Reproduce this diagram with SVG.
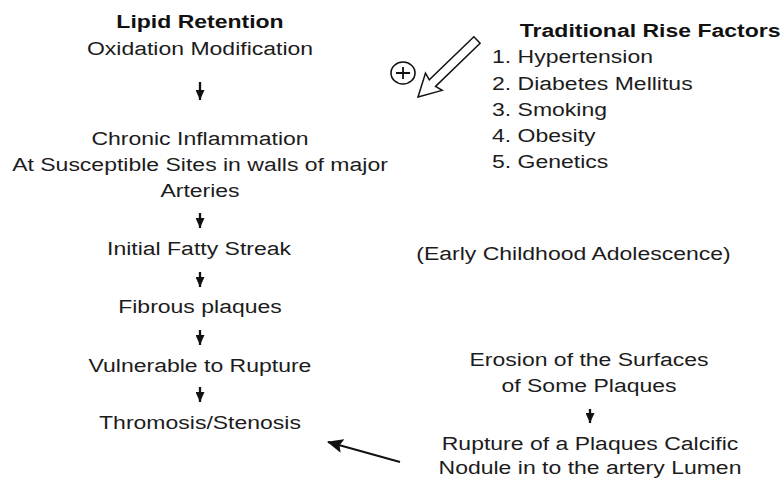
<svg xmlns="http://www.w3.org/2000/svg" width="782" height="481" viewBox="0 0 782 481">
<style>
text{font-family:"Liberation Sans",Arial,sans-serif;font-size:18.6px;fill:#1c1c1c}
.c{text-anchor:middle}
.s{text-anchor:start}
.b{font-weight:bold;fill:#111}
.ln{stroke:#111;stroke-width:2.3;fill:none}
.big{stroke:#111;stroke-width:2;fill:none}
.hollow{fill:#fff;stroke:#111;stroke-width:1.5;stroke-linejoin:miter}
</style>
<defs>
<marker id="ah" viewBox="0 0 10 9" refX="10" refY="4.5" markerWidth="10" markerHeight="9" markerUnits="userSpaceOnUse" orient="auto">
<path d="M0,0 L10,4.5 L0,9 Z" fill="#111"/>
</marker>
<marker id="ahb" viewBox="0 0 16 14" refX="15" refY="7" markerWidth="16" markerHeight="14" markerUnits="userSpaceOnUse" orient="auto">
<path d="M0,0 L16,7 L0,14 L3,7 Z" fill="#111"/>
</marker>
</defs>
<rect width="782" height="481" fill="#fff"/>
<g id="n1" transform="translate(200,0) scale(1.237,1)">
<text class="c b" x="0" y="28">Lipid Retention</text>
<text class="c" x="0" y="55">Oxidation Modification</text>
</g>
<g id="n2" transform="translate(200,0) scale(1.237,1)">
<text class="c" x="0" y="145">Chronic Inflammation</text>
<text class="c" x="0" y="171">At Susceptible Sites in walls of major</text>
<text class="c" x="0" y="197">Arteries</text>
</g>
<g id="n3" transform="translate(199,0) scale(1.237,1)">
<text class="c" x="0" y="255">Initial Fatty Streak</text>
</g>
<g id="n4" transform="translate(200,0) scale(1.237,1)">
<text class="c" x="0" y="313">Fibrous plaques</text>
</g>
<g id="n5" transform="translate(200,0) scale(1.237,1)">
<text class="c" x="0" y="372">Vulnerable to Rupture</text>
</g>
<g id="n6" transform="translate(200,0) scale(1.237,1)">
<text class="c" x="0" y="429">Thromosis/Stenosis</text>
</g>
<g id="risk" transform="translate(492,0) scale(1.237,1)">
<text class="s b" x="22.5" y="37">Traditional Rise Factors</text>
<text class="s" x="0" y="63.5">1. Hypertension</text>
<text class="s" x="0" y="90">2. Diabetes Mellitus</text>
<text class="s" x="0" y="116">3. Smoking</text>
<text class="s" x="0" y="142">4. Obesity</text>
<text class="s" x="0" y="168">5. Genetics</text>
</g>
<g id="plus">
<ellipse cx="403" cy="73" rx="12" ry="11" fill="none" stroke="#111" stroke-width="1.6"/>
<path d="M396,73 H410 M403,67 V79" stroke="#111" stroke-width="1.8"/>
</g>
<g id="early" transform="translate(573.5,0) scale(1.237,1)">
<text class="c" x="0" y="260">(Early Childhood Adolescence)</text>
</g>
<g id="erosion" transform="translate(589,0) scale(1.237,1)">
<text class="c" x="0" y="366">Erosion of the Surfaces</text>
<text class="c" x="0" y="392">of Some Plaques</text>
</g>
<g id="rupture" transform="translate(590,0) scale(1.237,1)">
<text class="c" x="0" y="450">Rupture of a Plaques Calcific</text>
<text class="c" x="0" y="474">Nodule in to the artery Lumen</text>
</g>
<g id="connectors">
<line class="ln" x1="200" y1="82" x2="200" y2="100" marker-end="url(#ah)"/>
<line class="ln" x1="200" y1="213" x2="200" y2="228" marker-end="url(#ah)"/>
<line class="ln" x1="200" y1="272" x2="200" y2="287" marker-end="url(#ah)"/>
<line class="ln" x1="200" y1="330" x2="200" y2="345" marker-end="url(#ah)"/>
<line class="ln" x1="200" y1="387" x2="200" y2="402" marker-end="url(#ah)"/>
<line class="ln" x1="590" y1="409" x2="590" y2="423" marker-end="url(#ah)"/>
<line class="big" x1="400" y1="462" x2="328" y2="442" marker-end="url(#ahb)"/>
<polygon class="hollow" transform="translate(418,97) rotate(136)" points="0,0 -22,-12 -20,-4.5 -82,-4.5 -82,4.5 -20,4.5 -22,12"/>
</g>
</svg>
